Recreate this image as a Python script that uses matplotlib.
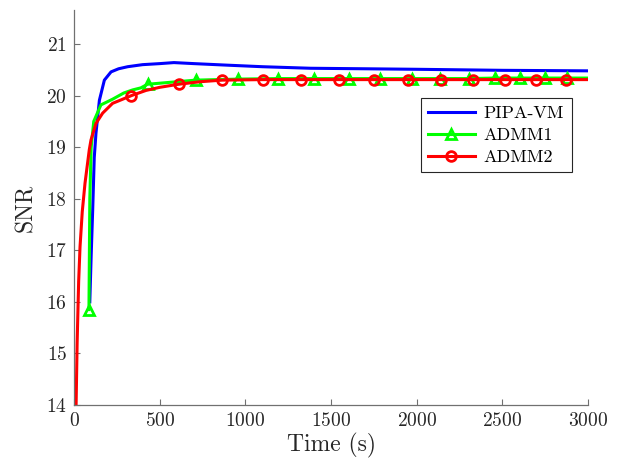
import matplotlib
matplotlib.use("Agg")
import matplotlib.pyplot as plt

# PIPA-VM
t_pipa = [92, 100, 109, 118, 128, 148, 177, 216, 260, 313, 400, 500, 583,
          700, 895, 1100, 1381, 1700, 2000, 2500, 3000]
snr_pipa = [16.0, 16.9, 17.8, 18.8, 19.27, 19.91, 20.3, 20.46, 20.52, 20.56,
            20.6, 20.62, 20.64, 20.62, 20.59, 20.56, 20.53, 20.52, 20.51,
            20.49, 20.48]

# ADMM1
t_admm1 = [87, 92, 100, 115, 157, 225, 290, 342, 390, 429, 500, 604, 711,
           957, 1192, 1400, 1604, 1788, 1970, 2138, 2303, 2459, 2604, 2750,
           2876, 3000]
snr_admm1 = [15.85, 18.0, 19.0, 19.5, 19.82, 19.93, 20.05, 20.11, 20.15,
             20.22, 20.24, 20.27, 20.3, 20.32, 20.33, 20.33, 20.33, 20.33,
             20.33, 20.33, 20.33, 20.34, 20.34, 20.34, 20.34, 20.34]
mark_admm1 = [0, 9, 12, 13, 14, 15, 16, 17, 18, 19, 20, 21, 22, 23, 24]

# ADMM2
t_admm2 = [12, 18, 27, 35, 48, 64, 89, 99, 128, 167, 225, 262, 335, 420,
           500, 610, 740, 866, 1103, 1326, 1546, 1750, 1948, 2142, 2328,
           2517, 2696, 2872, 3000]
snr_admm2 = [14.0, 15.2, 16.4, 17.07, 17.75, 18.3, 18.95, 19.14, 19.46,
             19.66, 19.85, 19.9, 20.0, 20.1, 20.16, 20.22, 20.27, 20.3, 20.31,
             20.31, 20.31, 20.31, 20.31, 20.31, 20.31, 20.31, 20.31, 20.31,
             20.31]
mark_admm2 = [12, 15, 17, 18, 19, 20, 21, 22, 23, 24, 25, 26, 27]

plt.rcParams["font.family"] = "serif"
plt.rcParams["font.serif"] = ["cmr10"]
plt.rcParams["mathtext.fontset"] = "cm"
plt.rcParams["axes.formatter.use_mathtext"] = True

fig = plt.figure(figsize=(6.17, 4.67), dpi=100)
ax = fig.add_axes([0.12, 0.1328, 0.833, 0.8458])

ax.plot(t_pipa, snr_pipa, color=(0, 0, 1), lw=2.2, label="PIPA-VM")
ax.plot(t_admm1, snr_admm1, color=(0, 1, 0), lw=2.2, marker="^",
        markevery=mark_admm1, ms=7, mfc="none", mew=2, label="ADMM1")
ax.plot(t_admm2, snr_admm2, color=(1, 0, 0), lw=2.2, marker="o",
        markevery=mark_admm2, ms=7, mfc="none", mew=2, label="ADMM2")

ax.set_xlim(0, 3000)
ax.set_ylim(14, 21.66)
ax.set_xticks(range(0, 3001, 500))
ax.set_yticks(range(14, 22))

for side in ["top", "right"]:
    ax.spines[side].set_visible(False)
for side in ["left", "bottom"]:
    ax.spines[side].set_color("#707070")
    ax.spines[side].set_linewidth(0.9)
ax.tick_params(direction="in", length=4, width=0.8, color="#707070",
               labelsize=14, labelcolor="#262626", pad=5)

ax.set_xlabel("Time (s)", fontsize=17, color="#262626", labelpad=2)
ax.set_ylabel("SNR", fontsize=17, color="#262626", labelpad=6)

leg = ax.legend(loc="upper right", bbox_to_anchor=(0.968, 0.776),
                fontsize=13, fancybox=False, framealpha=1, edgecolor="#262626",
                handlelength=2.6, borderpad=0.4, labelspacing=0.35,
                handletextpad=0.5, borderaxespad=0)
leg.get_frame().set_linewidth(0.8)

fig.savefig("out.png", dpi=100)
plt.close(fig)
